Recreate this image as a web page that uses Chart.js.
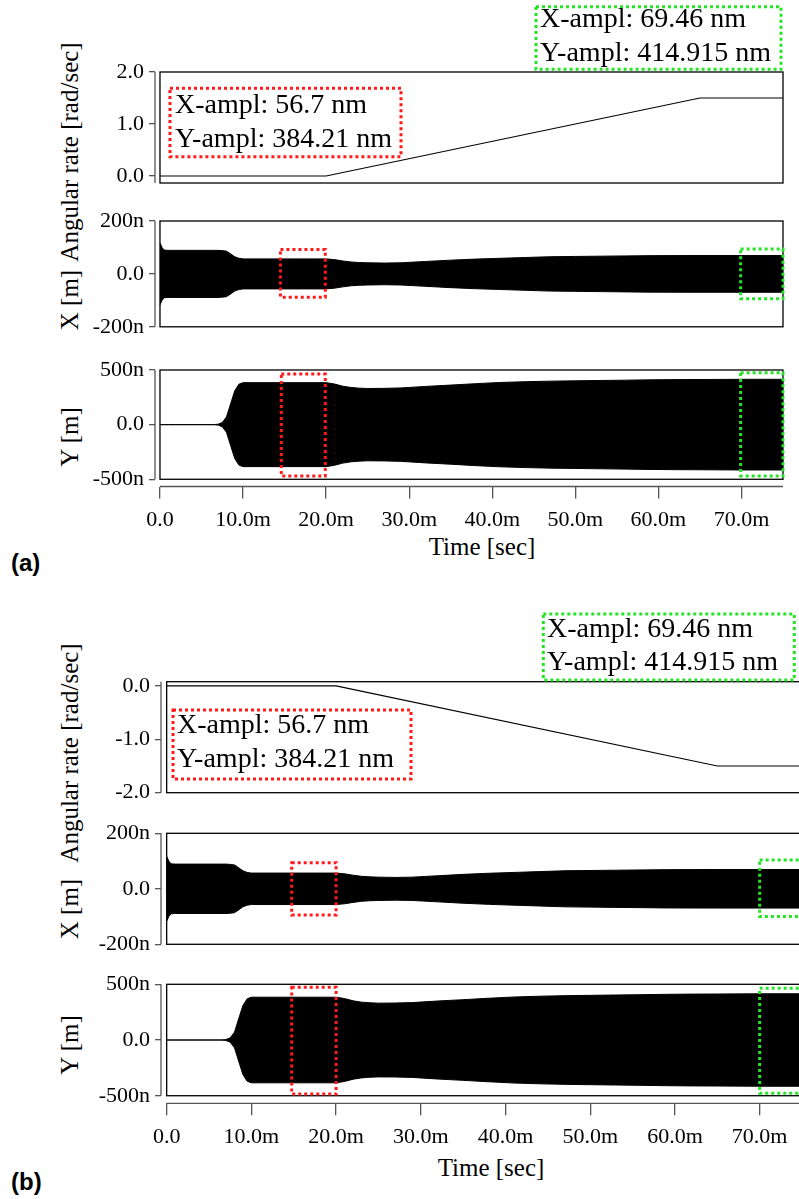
<!DOCTYPE html>
<html>
<head>
<meta charset="utf-8">
<script src="https://cdn.jsdelivr.net/npm/chart.js@4.4.1/dist/chart.umd.min.js"></script>
<style>
  html, body { margin: 0; padding: 0; background: #fff; }
  body { width: 799px; height: 1199px; overflow: hidden; position: relative; }
  .plot { position: absolute; left: 0; }
  .ytitle, .xtitle { position: absolute; font-family: "Liberation Serif", serif; font-size: 25px; color: #000; white-space: nowrap; }
  .ytitle { transform: translate(-50%, -50%) rotate(-90deg); }
  .xtitle { transform: translate(-50%, -50%); }
  .tag { position: absolute; font-family: "Liberation Sans", Arial, sans-serif; font-weight: bold; font-size: 24px; transform: translateY(-50%); }
</style>
</head>
<body>

<div class="ytitle" style="left:70px;top:152px">Angular rate [rad/sec]</div>
<div class="ytitle" style="left:70px;top:300px">X [m]</div>
<div class="ytitle" style="left:70px;top:437px">Y [m]</div>
<div class="xtitle" style="left:482px;top:547px">Time [sec]</div>
<div class="tag" style="left:11px;top:563px">(a)</div>

<div class="ytitle" style="left:70px;top:753px">Angular rate [rad/sec]</div>
<div class="ytitle" style="left:70px;top:909px">X [m]</div>
<div class="ytitle" style="left:70px;top:1045px">Y [m]</div>
<div class="xtitle" style="left:491px;top:1168px">Time [sec]</div>
<div class="tag" style="left:11px;top:1182px">(b)</div>

<script>
// time in ms, envelope amplitudes in nm
var timeMs = [0, 0.25, 0.5, 1, 6.4, 7, 7.5, 8, 8.5, 9, 9.5, 10, 20, 21, 22, 23, 24, 25, 27, 29, 32, 35, 38, 41, 44, 47, 50, 53, 56, 59, 62, 65, 70, 75];
var xAmpl  = [117, 100, 90, 89, 89, 89, 88, 86, 76, 65, 59, 56.7, 56.7, 54, 49, 45, 43, 42, 41, 42, 47, 52, 56, 59, 62, 65, 66, 67, 68, 69, 69.3, 69.46, 69.46, 69.46];
var yAmpl  = [0, 0, 0, 0, 0, 4, 20, 70, 190, 310, 370, 384.21, 384.21, 372, 352, 340, 334, 331, 332, 336, 350, 362, 375, 386, 393, 398, 401, 404, 407, 410, 412, 413, 414.915, 414.915];

// angular rate profile (rad/sec)
var rateTime = [0, 20, 65, 75];
var rateUp   = [0, 0, 1.5, 1.5];
var rateDown = [0, 0, -1.5, -1.5];

var timeTicks  = [0, 10, 20, 30, 40, 50, 60, 70];
var rateTicksA = [0, 1, 2];
var rateTicksB = [-2, -1, 0];
var xTicks = [-200, 0, 200];
var yTicks = [-500, 0, 500];

var iEarly = timeMs.indexOf(20);
var iLate = timeMs.indexOf(75);
var earlyNote = ['X-ampl: ' + xAmpl[iEarly] + ' nm', 'Y-ampl: ' + yAmpl[iEarly] + ' nm'];
var lateNote  = ['X-ampl: ' + xAmpl[iLate] + ' nm', 'Y-ampl: ' + yAmpl[iLate] + ' nm'];

function pts(xs, ys) {
  return xs.map(function (x, i) { return { x: x, y: ys[i] }; });
}

// frame, offset axes, dotted windows and amplitude notes
var framePlugin = {
  id: 'frame',
  afterDraw: function (chart, args, o) {
    var ctx = chart.ctx, xs = chart.scales.x, ys = chart.scales.y, a = chart.chartArea;
    var left = xs.getPixelForValue(0), top = a.top, right = a.right;
    var bottom = ys.getPixelForValue(o.boxBottom);
    ctx.save();
    ctx.lineWidth = 1.3;
    ctx.strokeStyle = '#555';
    ctx.beginPath();
    ctx.moveTo(a.left, top); ctx.lineTo(a.left, bottom);
    if (o.timeAxis) { ctx.moveTo(left, a.bottom); ctx.lineTo(right, a.bottom); }
    ctx.stroke();
    ctx.strokeStyle = '#000';
    ctx.strokeRect(left, top, right - left, bottom - top);

    ctx.lineWidth = 3;
    ctx.setLineDash([3, 3]);
    (o.marks || []).forEach(function (m) {
      var x0 = xs.getPixelForValue(m.t0), x1 = xs.getPixelForValue(m.t1);
      var y0 = ys.getPixelForValue(m.hi), y1 = ys.getPixelForValue(m.lo);
      ctx.strokeStyle = m.color;
      ctx.strokeRect(x0, y0, x1 - x0, y1 - y0);
    });
    (o.notes || []).forEach(function (n) {
      ctx.setLineDash([3, 3]);
      ctx.strokeStyle = n.color;
      ctx.strokeRect(n.x, n.y, n.w, n.h);
      ctx.setLineDash([]);
      ctx.fillStyle = '#000';
      ctx.font = '28px "Liberation Serif"';
      ctx.textBaseline = 'alphabetic';
      n.lines.forEach(function (s, i) { ctx.fillText(s, n.tx, n.base[i]); });
    });
    ctx.restore();
  }
};

var tickFont = { family: 'Liberation Serif', size: 22 };

function makeChart(p) {
  var box = document.createElement('div');
  box.className = 'plot';
  box.style.top = p.top + 'px';
  box.style.width = p.width + 'px';
  box.style.height = p.height + 'px';
  var cv = document.createElement('canvas');
  box.appendChild(cv);
  document.body.appendChild(box);

  return new Chart(cv.getContext('2d'), {
    type: 'line',
    data: { datasets: p.datasets },
    plugins: [framePlugin],
    options: {
      responsive: true,
      maintainAspectRatio: false,
      animation: false,
      events: [],
      layout: { padding: { left: 0, right: p.padRight, top: p.padTop, bottom: p.padBottom } },
      plugins: {
        legend: { display: false },
        tooltip: { enabled: false },
        frame: p.frame
      },
      scales: {
        x: {
          type: 'linear', min: p.tMin, max: 75, display: !!p.axisHeight,
          afterBuildTicks: function (s) { s.ticks = timeTicks.map(function (v) { return { value: v }; }); },
          afterFit: function (s) { if (p.axisHeight) s.height = p.axisHeight; },
          border: { display: false },
          grid: { drawOnChartArea: false, drawTicks: true, tickLength: 12, color: '#555', lineWidth: 1.3 },
          ticks: {
            autoSkip: false, maxRotation: 0, padding: 9, color: '#000', font: tickFont,
            callback: function (v) { return v === 0 ? '0.0' : v.toFixed(1) + 'm'; }
          }
        },
        y: {
          type: 'linear', min: p.yMin, max: p.yMax,
          afterBuildTicks: function (s) { s.ticks = p.yTicks.map(function (v) { return { value: v }; }); },
          afterFit: function (s) { s.width = p.left; },
          border: { display: false },
          grid: { drawOnChartArea: false, drawTicks: true, tickLength: 6, color: '#555', lineWidth: 1.3 },
          ticks: { autoSkip: false, padding: 5, color: '#000', font: tickFont, callback: p.yFmt }
        }
      }
    }
  });
}

function rateSet(vals) {
  return [{ data: pts(rateTime, vals), borderColor: '#000', borderWidth: 1.2, pointRadius: 0, tension: 0, fill: false }];
}
function envSet(amp) {
  return [
    { data: pts(timeMs, amp), borderColor: '#000', backgroundColor: '#000', borderWidth: 1, pointRadius: 0, tension: 0, fill: '+1' },
    { data: pts(timeMs, amp.map(function (v) { return -v; })), borderColor: '#000', borderWidth: 1, pointRadius: 0, tension: 0, fill: false }
  ];
}
var fmtRate = function (v) { return v.toFixed(1); };
var fmtNano = function (v) { return v === 0 ? '0.0' : v + 'n'; };

// ---- (a) positive angular rate ----
makeChart({
  top: 0, width: 799, height: 205, left: 155, padRight: 16, padTop: 72, padBottom: 22,
  tMin: -0.6, yMin: -0.135, yMax: 2.0, yTicks: rateTicksA, yFmt: fmtRate,
  datasets: rateSet(rateUp),
  frame: {
    boxBottom: -0.135,
    notes: [
      { color: '#ff1a1a', x: 170, y: 88.3, w: 231, h: 68.4, tx: 175, base: [113.3, 146.7], lines: earlyNote },
      { color: '#22e622', x: 536, y: 6.7, w: 245, h: 62.6, tx: 540, base: [27.3, 60.7], lines: lateNote }
    ]
  }
});
makeChart({
  top: 195, width: 799, height: 150, left: 155, padRight: 16, padTop: 26, padBottom: 15,
  tMin: -0.6, yMin: -200, yMax: 200, yTicks: xTicks, yFmt: fmtNano,
  datasets: envSet(xAmpl),
  frame: {
    boxBottom: -200,
    marks: [
      { color: '#ff1a1a', t0: 14.5, t1: 19.9, hi: 92, lo: -88 },
      { color: '#22e622', t0: 69.9, t1: 75, hi: 94, lo: -94 }
    ]
  }
});
makeChart({
  top: 340, width: 799, height: 205, left: 155, padRight: 16, padTop: 30, padBottom: 0, axisHeight: 58.5,
  tMin: -0.6, yMin: -566, yMax: 500, yTicks: yTicks, yFmt: fmtNano,
  datasets: envSet(yAmpl),
  frame: {
    boxBottom: -500, timeAxis: true,
    marks: [
      { color: '#ff1a1a', t0: 14.6, t1: 19.9, hi: 463, lo: -470 },
      { color: '#22e622', t0: 69.9, t1: 75, hi: 475, lo: -470 }
    ]
  }
});

// ---- (b) negative angular rate ----
makeChart({
  top: 600, width: 810, height: 215, left: 161, padRight: 8, padTop: 81.7, padBottom: 22.3,
  tMin: -0.67, yMin: -2.0, yMax: 0.08, yTicks: rateTicksB, yFmt: fmtRate,
  datasets: rateSet(rateDown),
  frame: {
    boxBottom: -2.0,
    notes: [
      { color: '#ff1a1a', x: 173, y: 110, w: 238, h: 69, tx: 177, base: [133.3, 167], lines: earlyNote },
      { color: '#22e622', x: 543.3, y: 14, w: 251, h: 66, tx: 547, base: [37, 70], lines: lateNote }
    ]
  }
});
makeChart({
  top: 815, width: 810, height: 150, left: 161, padRight: 8, padTop: 18.3, padBottom: 20.7,
  tMin: -0.67, yMin: -200, yMax: 200, yTicks: xTicks, yFmt: fmtNano,
  datasets: envSet(xAmpl),
  frame: {
    boxBottom: -200,
    marks: [
      { color: '#ff1a1a', t0: 14.76, t1: 20.0, hi: 94, lo: -94 },
      { color: '#22e622', t0: 70.0, t1: 76, hi: 104, lo: -100 }
    ]
  }
});
makeChart({
  top: 965, width: 810, height: 210, left: 161, padRight: 8, padTop: 19.3, padBottom: 0, axisHeight: 71.7,
  tMin: -0.67, yMin: -568, yMax: 500, yTicks: yTicks, yFmt: fmtNano,
  datasets: envSet(yAmpl),
  frame: {
    boxBottom: -500, timeAxis: true,
    marks: [
      { color: '#ff1a1a', t0: 14.76, t1: 20.0, hi: 473, lo: -485 },
      { color: '#22e622', t0: 70.0, t1: 76, hi: 464, lo: -478 }
    ]
  }
});
</script>
</body>
</html>
